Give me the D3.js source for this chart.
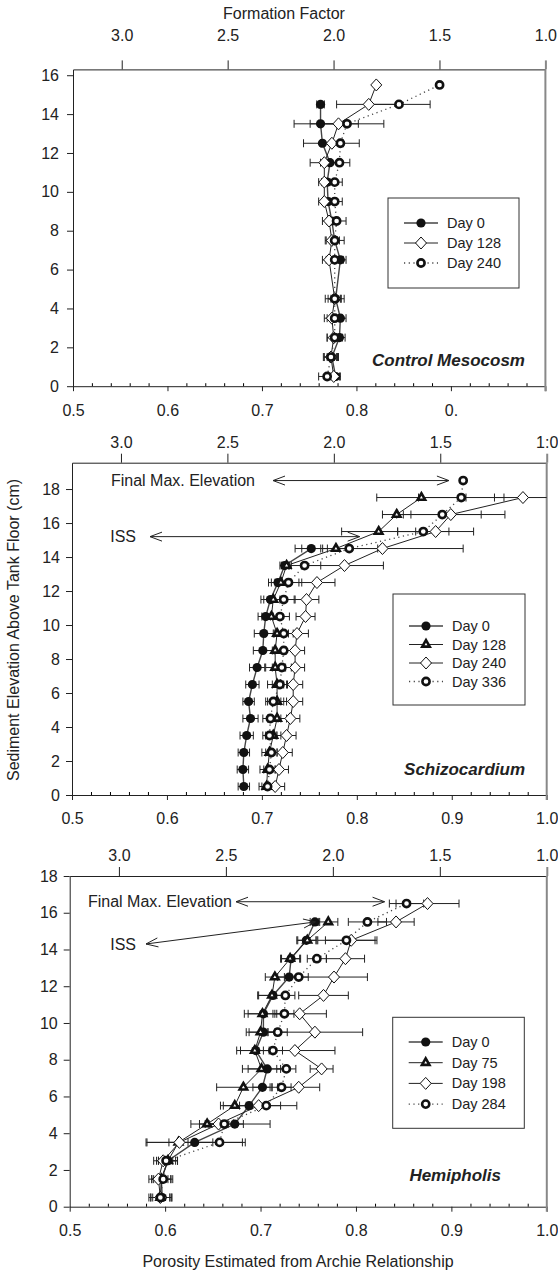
<!DOCTYPE html>
<html><head><meta charset="utf-8">
<script src="https://cdn.jsdelivr.net/npm/d3@7"></script>
<style>
body{margin:0;background:#fff}
svg{display:block}
text{font-family:Arial,"Liberation Sans",sans-serif;fill:#222}
</style>
</head><body>
<svg id="chart" width="558" height="1271"></svg>
<script>
// Shared axis ticks
const porosityTicks = [0.5, 0.6, 0.7, 0.8, 0.9, 1.0];
const formationTicks = [3.0, 2.5, 2.0, 1.5, 1.0];
const elevationTicks16 = [0, 2, 4, 6, 8, 10, 12, 14, 16];
const elevationTicks18 = [0, 2, 4, 6, 8, 10, 12, 14, 16, 18];

// Control Mesocosm
const controlElevation = [0.5, 1.5, 2.5, 3.5, 4.5, 6.5, 7.5, 8.5, 9.5, 10.5, 11.5, 12.5, 13.5, 14.5, 15.5];
const controlDay0   = [0.778, 0.774, 0.782, 0.783, 0.778, 0.783, 0.777, 0.774, 0.770, 0.769, 0.772, 0.764, 0.762, 0.762, null];
const controlDay0Err   = [0.005, 0.005, 0.006, 0.006, 0.005, 0.006, 0.005, 0.005, 0.005, 0.006, 0.010, 0.020, 0.028, 0.004, 0];
const controlDay128 = [0.776, 0.773, 0.776, 0.774, 0.777, 0.771, 0.774, 0.771, 0.766, 0.766, 0.766, 0.774, 0.781, 0.813, 0.821];
const controlDay128Err = [0.006, 0.007, 0.007, 0.008, 0.007, 0.007, 0.006, 0.007, 0.006, 0.006, 0.015, 0.012, 0.021, 0.034, 0];
const controlDay240 = [0.769, 0.773, 0.777, 0.777, 0.777, 0.777, 0.777, 0.779, 0.777, 0.777, 0.782, 0.783, 0.790, 0.845, 0.888];
const controlDay240Err = [0.009, 0.008, 0.008, 0.008, 0.010, 0.009, 0.010, 0.010, 0.008, 0.008, 0.011, 0.020, 0.039, 0.033, 0];

// Schizocardium
const schizElevation = [0.5, 1.5, 2.5, 3.5, 4.5, 5.5, 6.5, 7.5, 8.5, 9.5, 10.5, 11.5, 12.5, 13.5, 14.5, 15.5, 16.5, 17.5, 18.5];
const schizDay0   = [0.681, 0.680, 0.681, 0.684, 0.688, 0.686, 0.690, 0.695, 0.701, 0.702, 0.704, 0.709, 0.717, 0.724, 0.752, null, null, null, null];
const schizDay0Err   = [0.006, 0.006, 0.006, 0.007, 0.008, 0.006, 0.007, 0.008, 0.010, 0.010, 0.008, 0.010, 0.010, 0.005, 0.017, 0, 0, 0, 0];
const schizDay128 = [0.705, 0.706, 0.708, 0.712, 0.716, 0.716, 0.716, 0.714, 0.714, 0.716, 0.710, 0.712, 0.720, 0.726, 0.778, 0.823, 0.842, 0.868, null];
const schizDay128Err = [0.008, 0.008, 0.008, 0.008, 0.010, 0.010, 0.010, 0.010, 0.012, 0.012, 0.010, 0.010, 0.010, 0.005, 0.014, 0.039, 0.015, 0.047, 0];
const schizDay240 = [0.714, 0.718, 0.722, 0.726, 0.730, 0.733, 0.733, 0.735, 0.735, 0.737, 0.746, 0.747, 0.758, 0.787, 0.827, 0.883, 0.899, 0.975, null];
const schizDay240Err = [0.010, 0.010, 0.010, 0.010, 0.010, 0.010, 0.010, 0.010, 0.010, 0.012, 0.010, 0.013, 0.019, 0.041, 0.085, 0.040, 0.057, 0.030, 0];
const schizDay336 = [0.706, 0.708, 0.710, 0.708, 0.709, 0.712, 0.719, 0.721, 0.723, 0.723, 0.719, 0.723, 0.728, 0.745, 0.792, 0.870, 0.890, 0.910, 0.912];
const schizDay336Err = [0.006, 0.006, 0.006, 0.007, 0.008, 0.008, 0.008, 0.010, 0.010, 0.010, 0.010, 0.012, 0.014, 0.017, 0.030, 0.027, 0.041, 0.045, 0];

// Hemipholis
const hemiElevation = [0.5, 1.5, 2.5, 3.5, 4.5, 5.5, 6.5, 7.5, 8.5, 9.5, 10.5, 11.5, 12.5, 13.5, 14.5, 15.5, 16.5];
const hemiDay0   = [0.597, 0.596, 0.603, 0.631, 0.673, 0.688, 0.702, 0.707, 0.695, 0.703, 0.703, 0.713, 0.730, 0.732, 0.748, 0.757, null];
const hemiDay0Err   = [0.010, 0.010, 0.010, 0.050, 0.037, 0.010, 0.010, 0.020, 0.020, 0.015, 0.020, 0.015, 0.012, 0.010, 0.010, 0.005, 0];
const hemiDay75  = [0.595, 0.596, 0.603, 0.614, 0.644, 0.673, 0.682, 0.701, 0.694, 0.700, 0.702, 0.712, 0.715, 0.731, 0.749, 0.771, null];
const hemiDay75Err  = [0.010, 0.010, 0.010, 0.010, 0.017, 0.012, 0.028, 0.020, 0.015, 0.015, 0.015, 0.015, 0.010, 0.010, 0.010, 0.010, 0];
const hemiDay198 = [0.595, 0.593, 0.598, 0.615, 0.656, 0.698, 0.740, 0.764, 0.736, 0.757, 0.741, 0.766, 0.777, 0.789, 0.795, 0.842, 0.875];
const hemiDay198Err = [0.010, 0.010, 0.010, 0.035, 0.010, 0.040, 0.022, 0.012, 0.042, 0.050, 0.028, 0.026, 0.035, 0.020, 0.027, 0.019, 0.033];
const hemiDay284 = [0.595, 0.598, 0.601, 0.657, 0.662, 0.706, 0.722, 0.727, 0.713, 0.718, 0.725, 0.726, 0.740, 0.759, 0.790, 0.812, 0.853];
const hemiDay284Err = [0.012, 0.010, 0.010, 0.027, 0.020, 0.015, 0.010, 0.010, 0.010, 0.010, 0.010, 0.010, 0.010, 0.010, 0.030, 0.020, 0.018];

const svg = d3.select("#chart");
const FF_AT_LEFT = 3.23;
const minorTicks = d3.range(0.52, 0.99, 0.02).map(v => +v.toFixed(2)).filter(v => Math.abs(v * 10 - Math.round(v * 10)) > 1e-6);

// Marker renderers
const markers = {
  dot: (g) => g.append("circle").attr("r", 4.6).attr("fill", "#111"),
  triangle: (g) => g.append("path").attr("d", d3.symbol(d3.symbolTriangle, 24)()).attr("fill", "#fff").attr("stroke", "#111").attr("stroke-width", 2.6),
  diamond: (g) => g.append("path").attr("d", "M0,-6L5.5,0L0,6L-5.5,0Z").attr("fill", "#fff").attr("stroke", "#111").attr("stroke-width", 1),
  ring: (g) => g.append("circle").attr("r", 3.6).attr("fill", "#fff").attr("stroke", "#111").attr("stroke-width", 2.6)
};
const lineStyles = {
  dot: {stroke: "#444", width: 1.4, dash: null},
  triangle: {stroke: "#222", width: 1, dash: null},
  diamond: {stroke: "#222", width: 1, dash: null},
  ring: {stroke: "#444", width: 1.3, dash: "1.2,3.5"}
};

function drawArrow(g, x1, y1, x2, y2) {
  g.append("line").attr("x1", x1).attr("y1", y1).attr("x2", x2).attr("y2", y2)
    .attr("stroke", "#222").attr("stroke-width", 1);
  const head = (tx, ty, fx, fy) => {
    const a = Math.atan2(ty - fy, tx - fx);
    const L = 12, W = 4.5;
    const bx = tx - L * Math.cos(a), by = ty - L * Math.sin(a);
    const px = -Math.sin(a) * W, py = Math.cos(a) * W;
    g.append("path").attr("d", `M${bx + px},${by + py}L${tx},${ty}L${bx - px},${by - py}`)
      .attr("fill", "none").attr("stroke", "#222").attr("stroke-width", 1);
  };
  head(x2, y2, x1, y1);
  head(x1, y1, x2, y2);
}

function drawPanel(cfg) {
  const x = d3.scaleLinear().domain([0.5, 1.0]).range([cfg.left, cfg.right]);
  const ff = d3.scaleLinear().domain([FF_AT_LEFT, 1.0]).range([cfg.left, cfg.right]);
  const y = d3.scaleLinear().domain([0, cfg.yMax]).range([cfg.bottom, cfg.top]);
  const g = svg.append("g");

  // Bottom axis: major ticks outward, minor ticks inward
  const bottom = g.append("g").attr("transform", `translate(0,${cfg.bottom})`)
    .call(d3.axisBottom(x).tickValues(porosityTicks).tickFormat((d, i) => cfg.bottomLabels[i])
      .tickSize(5).tickSizeOuter(0).tickPadding(13));
  g.append("g").attr("transform", `translate(0,${cfg.bottom})`)
    .call(d3.axisTop(x).tickValues(minorTicks).tickFormat("").tickSize(3).tickSizeOuter(0))
    .select(".domain").remove();

  // Top axis: formation factor
  const top = g.append("g").attr("transform", `translate(0,${cfg.top})`)
    .call(d3.axisTop(ff).tickValues(formationTicks).tickFormat((d, i) => cfg.topLabels[i])
      .tickSize(9).tickSizeOuter(0).tickPadding(cfg.topPad));

  // Left axis: elevation
  const left = g.append("g").attr("transform", `translate(${cfg.left},0)`)
    .call(d3.axisLeft(y).tickValues(cfg.yTicks).tickFormat(d3.format("d"))
      .tickSize(6).tickSizeOuter(0).tickPadding(cfg.leftPad));

  [bottom, top, left].forEach(a => {
    a.selectAll("text").attr("font-size", 16).attr("fill", "#222").attr("font-family", "Arial, 'Liberation Sans', sans-serif");
    a.selectAll("line,path").attr("stroke", "#222");
  });
  top.selectAll(".tick").filter(d => d === 1.0).select("line").attr("stroke", "#888").attr("stroke-width", 2);

  // Right frame edge
  g.append("line").attr("x1", cfg.right).attr("x2", cfg.right).attr("y1", cfg.top).attr("y2", cfg.bottom + 5)
    .attr("stroke", "#888").attr("stroke-width", 2);

  // Series: lines first, then error bars and markers
  cfg.series.forEach(s => {
    const pts = cfg.elevation.map((e, i) => ({e, v: s.values[i], err: s.errors[i]}));
    const st = lineStyles[s.marker];
    g.append("path").datum(pts)
      .attr("d", d3.line().defined(d => d.v != null).x(d => x(d.v)).y(d => y(d.e)))
      .attr("fill", "none").attr("stroke", st.stroke).attr("stroke-width", st.width)
      .attr("stroke-dasharray", st.dash);
  });
  cfg.series.forEach(s => {
    cfg.elevation.forEach((e, i) => {
      const v = s.values[i], err = s.errors[i];
      if (v == null || !err) return;
      const yy = y(e), x0 = x(Math.max(0.5, v - err)), x1 = x(Math.min(1.0, v + err));
      g.append("line").attr("x1", x0).attr("x2", x1).attr("y1", yy).attr("y2", yy).attr("stroke", "#222").attr("stroke-width", 1);
      [v - err, v + err].forEach(c => {
        if (c < 0.5 || c > 1.0) return;
        g.append("line").attr("x1", x(c)).attr("x2", x(c)).attr("y1", yy - 4).attr("y2", yy + 4).attr("stroke", "#222").attr("stroke-width", 1);
      });
    });
  });
  cfg.series.forEach(s => {
    cfg.elevation.forEach((e, i) => {
      const v = s.values[i];
      if (v == null) return;
      markers[s.marker](g.append("g").attr("transform", `translate(${x(v)},${y(e)})`));
    });
  });

  // Legend
  const L = cfg.legend;
  g.append("rect").attr("x", L.x).attr("y", L.y).attr("width", L.w).attr("height", L.h)
    .attr("fill", "#fff").attr("stroke", "#333").attr("stroke-width", 1);
  cfg.series.forEach((s, i) => {
    const yy = L.firstY + i * L.step;
    const st = lineStyles[s.marker];
    g.append("line").attr("x1", L.x + 16).attr("x2", L.x + 50).attr("y1", yy).attr("y2", yy)
      .attr("stroke", st.stroke).attr("stroke-width", st.width).attr("stroke-dasharray", st.dash);
    markers[s.marker](g.append("g").attr("transform", `translate(${L.x + 33},${yy})`));
    g.append("text").attr("x", L.x + 59).attr("y", yy).attr("dy", "0.35em").attr("font-size", 14.5).text(s.name);
  });

  // Panel name
  g.append("text").attr("x", cfg.nameX).attr("y", cfg.nameY).attr("text-anchor", "end")
    .attr("font-size", 17).attr("font-weight", "bold").attr("font-style", "italic").text(cfg.name);

  // Annotations
  (cfg.notes || []).forEach(n => {
    g.append("text").attr("x", n.tx).attr("y", y(n.ty)).attr("dy", "0.35em").attr("text-anchor", "end")
      .attr("font-size", 16).text(n.text);
    drawArrow(g, n.x1, y(n.y1), x(n.x2), y(n.y2));
  });
  return {x, y};
}

drawPanel({
  left: 73, right: 545.4, top: 69.4, bottom: 386.2, yMax: 16.3, yTicks: elevationTicks16,
  bottomLabels: ["0.5", "0.6", "0.7", "0.8", "0.", ""], topLabels: ["3.0", "2.5", "2.0", "1.5", "1.0"],
  topPad: 19, leftPad: 8,
  elevation: controlElevation,
  series: [
    {name: "Day 0", marker: "dot", values: controlDay0, errors: controlDay0Err},
    {name: "Day 128", marker: "diamond", values: controlDay128, errors: controlDay128Err},
    {name: "Day 240", marker: "ring", values: controlDay240, errors: controlDay240Err}
  ],
  legend: {x: 388, y: 198, w: 131, h: 90, firstY: 223, step: 20},
  name: "Control Mesocosm", nameX: 525, nameY: 366
});

drawPanel({
  left: 72, right: 546.7, top: 462.7, bottom: 795, yMax: 19.55, yTicks: elevationTicks18,
  bottomLabels: ["0.5", "0.6", "0.7", "0.8", "0.9", "1.0"], topLabels: ["3.0", "2.5", "2.0", "1.5", "1:0"],
  topPad: 6, leftPad: 6,
  elevation: schizElevation,
  series: [
    {name: "Day 0", marker: "dot", values: schizDay0, errors: schizDay0Err},
    {name: "Day 128", marker: "triangle", values: schizDay128, errors: schizDay128Err},
    {name: "Day 240", marker: "diamond", values: schizDay240, errors: schizDay240Err},
    {name: "Day 336", marker: "ring", values: schizDay336, errors: schizDay336Err}
  ],
  legend: {x: 393, y: 594, w: 132, h: 111, firstY: 626, step: 18.5},
  name: "Schizocardium", nameX: 525, nameY: 775,
  notes: [
    {text: "Final Max. Elevation", tx: 255, ty: 18.5, x1: 273, y1: 18.5, x2: 0.897, y2: 18.5},
    {text: "ISS", tx: 136, ty: 15.2, x1: 150, y1: 15.2, x2: 0.803, y2: 15.2}
  ]
});

drawPanel({
  left: 69.7, right: 546.8, top: 876, bottom: 1206.7, yMax: 18, yTicks: elevationTicks18,
  bottomLabels: ["0.5", "0.6", "0.7", "0.8", "0.9", "1.0"], topLabels: ["3.0", "2.5", "2.0", "1.5", "1.0"],
  topPad: 6, leftPad: 6,
  elevation: hemiElevation,
  series: [
    {name: "Day 0", marker: "dot", values: hemiDay0, errors: hemiDay0Err},
    {name: "Day 75", marker: "triangle", values: hemiDay75, errors: hemiDay75Err},
    {name: "Day 198", marker: "diamond", values: hemiDay198, errors: hemiDay198Err},
    {name: "Day 284", marker: "ring", values: hemiDay284, errors: hemiDay284Err}
  ],
  legend: {x: 392.7, y: 1017.3, w: 131.6, h: 111, firstY: 1042, step: 20.7},
  name: "Hemipholis", nameX: 501, nameY: 1181,
  notes: [
    {text: "Final Max. Elevation", tx: 232, ty: 16.6, x1: 236, y1: 16.6, x2: 0.83, y2: 16.6},
    {text: "ISS", tx: 136, ty: 14.3, x1: 146, y1: 14.3, x2: 0.7575, y2: 15.5}
  ]
});

// Shared axis titles
svg.append("text").attr("x", 284).attr("y", 19).attr("text-anchor", "middle").attr("font-size", 16).text("Formation Factor");
svg.append("text").attr("x", 298).attr("y", 1267).attr("text-anchor", "middle").attr("font-size", 16)
  .text("Porosity Estimated from Archie Relationship");
svg.append("text").attr("transform", "translate(19,630) rotate(-90)").attr("text-anchor", "middle").attr("font-size", 16)
  .text("Sediment Elevation Above Tank Floor (cm)");
</script>
</body></html>
